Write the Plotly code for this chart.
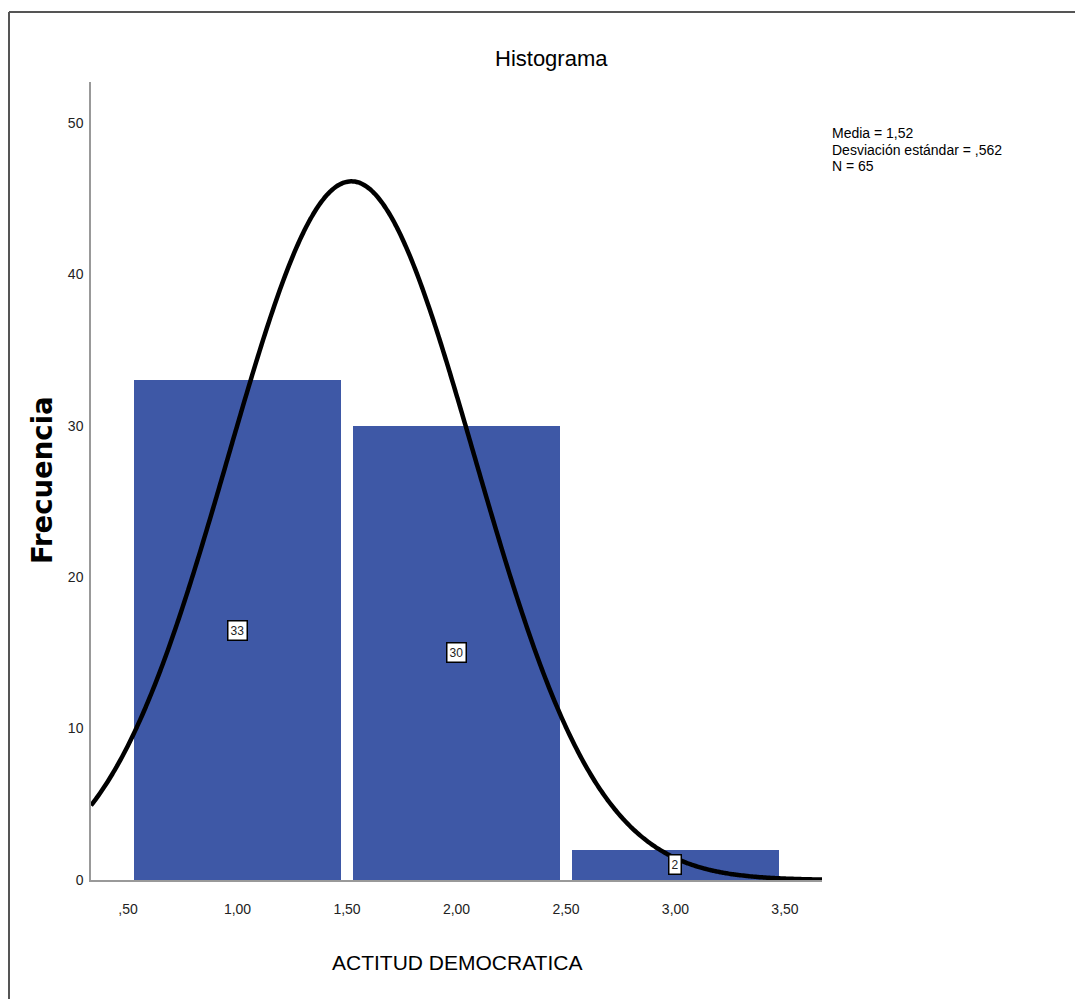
import numpy as np
import plotly.graph_objects as go

# ---- data ----
bin_centers = [1.0, 2.0, 3.0]
counts = [33, 30, 2]
bin_width = 1.0
mean_val = 1.52
std_val = 0.562
n_val = 65
x_tickvals = [0.5, 1.0, 1.5, 2.0, 2.5, 3.0, 3.5]
x_ticktext = [",50", "1,00", "1,50", "2,00", "2,50", "3,00", "3,50"]
y_tickvals = [0, 10, 20, 30, 40, 50]
y_ticktext = ["0", "10", "20", "30", "40", "50"]
stats_lines = ["Media = 1,52", "Desviación estándar = ,562", "N = 65"]

X_RANGE = [0.331, 3.669]
Y_RANGE = [0, 52.7]

FONT = "Liberation Sans, Arial, sans-serif"
BAR_COLOR = "#3e58a6"

# page pixel -> paper coordinate helpers (plot area: x 91..822, y 82..880)
def px(x):
    return (x - 91) / 731


def py(y):
    return (880 - y) / 798


fig = go.Figure()

fig.add_trace(go.Bar(
    x=bin_centers, y=counts, width=0.945,
    marker=dict(color=BAR_COLOR, line=dict(width=0)),
    hoverinfo="skip", showlegend=False,
))

# fitted normal curve from the reported mean / sd / N
xs = np.linspace(X_RANGE[0], X_RANGE[1], 400)
ys = n_val * bin_width / (std_val * np.sqrt(2 * np.pi)) * np.exp(-0.5 * ((xs - mean_val) / std_val) ** 2)
fig.add_trace(go.Scatter(
    x=xs, y=ys, mode="lines",
    line=dict(color="black", width=4.5, shape="spline"),
    hoverinfo="skip", showlegend=False,
))

annotations = []
for xc, c in zip(bin_centers, counts):
    annotations.append(dict(
        x=xc, y=c / 2, xref="x", yref="y", text=str(c), showarrow=False,
        xanchor="center", yanchor="middle",
        font=dict(family=FONT, size=12, color="#222"),
        bgcolor="white", bordercolor="black", borderwidth=1.5, borderpad=2,
    ))

for i, line in enumerate(stats_lines):
    annotations.append(dict(
        x=px(830), y=py(133 + 16.5 * i), xref="paper", yref="paper",
        xanchor="left", yanchor="middle", align="left", showarrow=False,
        text=line, font=dict(family=FONT, size=14, color="black"),
    ))

annotations.append(dict(
    x=px(551), y=py(58), xref="paper", yref="paper",
    xanchor="center", yanchor="middle",
    text="Histograma", showarrow=False,
    font=dict(family=FONT, size=22, color="black"),
))
annotations.append(dict(
    x=px(457), y=py(962), xref="paper", yref="paper",
    xanchor="center", yanchor="middle",
    text="ACTITUD DEMOCRATICA", showarrow=False,
    font=dict(family=FONT, size=21, color="black"),
))
annotations.append(dict(
    x=px(42), y=py(480), xref="paper", yref="paper",
    xanchor="center", yanchor="middle",
    text="<b>Frecuencia</b>", showarrow=False, textangle=-90,
    font=dict(family="DejaVu Sans, sans-serif", size=27.5, color="black"),
))

shapes = [
    dict(type="line", xref="paper", yref="paper",
         x0=px(9), x1=px(9), y0=py(12), y1=py(1010),
         line=dict(color="#555", width=2)),
    dict(type="line", xref="paper", yref="paper",
         x0=px(9), x1=px(1095), y0=py(12), y1=py(12),
         line=dict(color="#555", width=2)),
]

fig.update_layout(
    width=1075, height=991,
    margin=dict(l=83, r=261, t=74, b=119, pad=0),
    paper_bgcolor="white", plot_bgcolor="white",
    bargap=0,
    annotations=annotations, shapes=shapes,
    xaxis=dict(range=X_RANGE, tickvals=x_tickvals, ticktext=x_ticktext,
               showgrid=False, zeroline=False, showline=True, linecolor="#999", linewidth=1.5,
               ticks="outside", ticklen=15, tickcolor="rgba(0,0,0,0)",
               tickfont=dict(family=FONT, size=14, color="#222")),
    yaxis=dict(range=Y_RANGE, tickvals=y_tickvals, ticktext=y_ticktext,
               showgrid=False, zeroline=False, showline=True, linecolor="#999", linewidth=1.5,
               ticks="outside", ticklen=3, tickcolor="rgba(0,0,0,0)",
               tickfont=dict(family=FONT, size=14, color="#222")),
)

fig.write_html("out.html")
